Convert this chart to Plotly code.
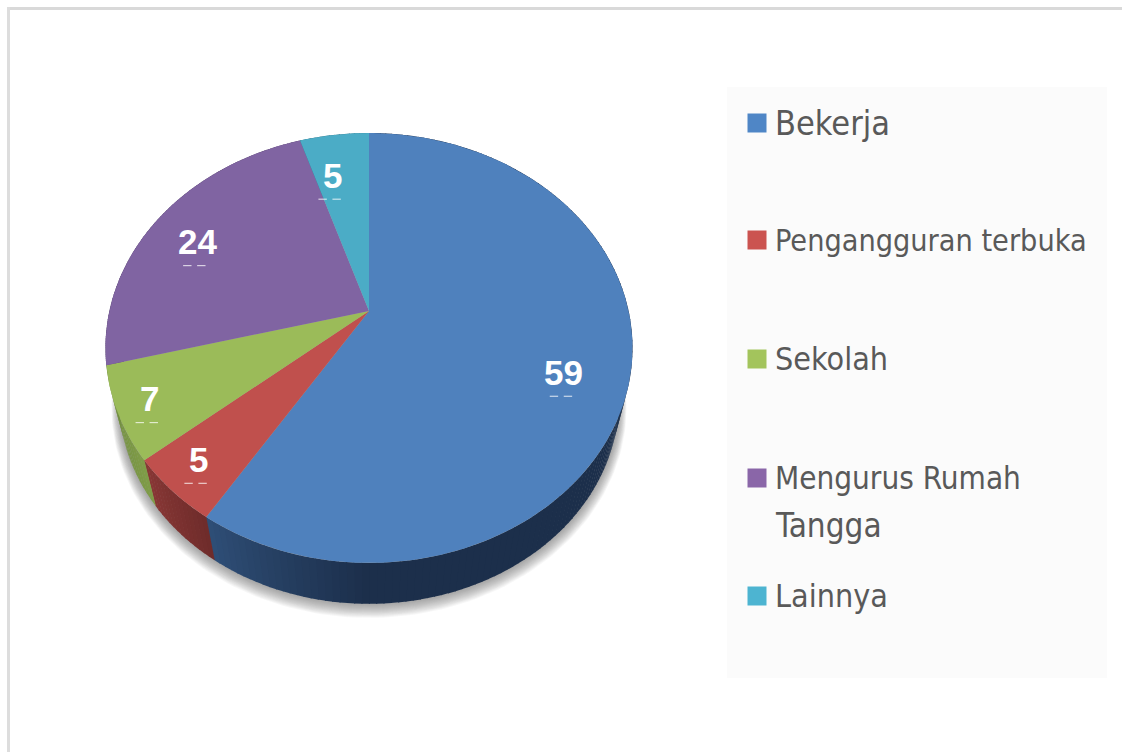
import math
import plotly.graph_objects as go

# ---------- data ----------
categories = ["Bekerja", "Pengangguran terbuka", "Sekolah", "Mengurus Rumah\nTangga", "Lainnya"]
values = [59, 5, 7, 24, 5]
top_colors = ["#4F81BD", "#C0504D", "#9BBB59", "#8064A2", "#4BACC6"]

# ---------- style / layout constants ----------
wall_start = ["#2F4F78", "#8A3836", "#6E8A3C", "#55406F", "#2F7488"]
wall_end = ["#1C2F4B", "#6F2C2B", "#7F9C48", "#55406F", "#2F7488"]
legend_colors = ["#4F86C6", "#CB5350", "#A3C45C", "#8A66A8", "#4DB4D1"]
legend_y = [123, 240, 359, 478, 596]
legend_sizes = [[34], [30.3], [32], [31.2, 33], [32]]
label_r = [0.75, 0.88, 0.89, 0.80, 0.73]
label_dx = [1, 0, 2, -1, -10]
label_dy = [16, -7, -3, 6, -2]

CX, CY, R = 369, 311, 259.6
A, C = 155.1, -0.172
VPX, VPY, S = 369, 1350, 0.948


def project(frac, r=1.0):
    t = 2 * math.pi * frac
    u, v = r * math.sin(t), -r * math.cos(t)
    den = 1 + C * v
    return CX + R * u / den, (A * v + CY) / den


def drop(p):
    return VPX + S * (p[0] - VPX), VPY + S * (p[1] - VPY)


def mix(a, b, k):
    ca = [int(a[i:i + 2], 16) for i in (1, 3, 5)]
    cb = [int(b[i:i + 2], 16) for i in (1, 3, 5)]
    return "#%02x%02x%02x" % tuple(round(x + (y - x) * k) for x, y in zip(ca, cb))


def poly(pts, color):
    return go.Scatter(
        x=[p[0] for p in pts] + [pts[0][0]],
        y=[p[1] for p in pts] + [pts[0][1]],
        mode="lines", fill="toself", fillcolor=color,
        line=dict(width=0, color=color), hoverinfo="skip", showlegend=False,
    )


fig = go.Figure()

# soft shadow below the disc
ring = [drop(project(i / 240)) for i in range(240)]
for k in range(14, 0, -1):
    grow = 1 + k * 0.0022
    pts = [(VPX + (p[0] - VPX) * grow, 400 + (p[1] - 400) * grow + k * 0.55) for p in ring]
    fig.add_trace(poly(pts, "rgba(90,90,90,0.05)"))

total = sum(values)
edges = [0]
for val in values:
    edges.append(edges[-1] + val / total)

# side walls
for i in range(len(values)):
    a, b = edges[i], edges[i + 1]
    strips = 150 if values[i] > 10 else 14
    for s in range(strips):
        f0 = a + (b - a) * s / strips
        f1 = a + (b - a) * (s + 1) / strips + 0.0006
        # blue wall fades only towards its left end
        if i == 0:
            k = min(1, (b - f0) / 0.09)
        else:
            k = (b - f0) / (b - a)
        col = mix(wall_start[i], wall_end[i], k)
        top = [project(f0), project(f1)]
        fig.add_trace(poly(top + [drop(p) for p in reversed(top)], col))

# top faces
for i in range(len(values)):
    a, b = edges[i], edges[i + 1]
    n = max(6, int(values[i] * 3))
    rim = [project(a + (b - a) * j / n) for j in range(n + 1)]
    fig.add_trace(poly([(CX, CY)] + rim, top_colors[i]))

annotations = []
# value labels
for i, val in enumerate(values):
    x, y = project((edges[i] + edges[i + 1]) / 2, label_r[i])
    x += label_dx[i]
    y += label_dy[i]
    annotations.append(dict(x=x, y=y, text=f"<b>{val}</b>", showarrow=False, xanchor="center", yanchor="middle",
                            font=dict(family="Liberation Sans", size=35, color="white")))
    fig.add_trace(go.Scatter(x=[x - 10, x + 4], y=[y + 24, y + 24], mode="markers", hoverinfo="skip", showlegend=False,
                             marker=dict(symbol="line-ew", size=6, line=dict(color="rgba(255,255,255,0.7)", width=1.2))))

# legend
fig.add_trace(go.Scatter(x=[757] * len(values), y=legend_y, mode="markers", hoverinfo="skip", showlegend=False,
                         marker=dict(symbol="square", size=19, color=legend_colors, line=dict(width=0))))
for name, y, sizes in zip(categories, legend_y, legend_sizes):
    for j, (line, size) in enumerate(zip(name.split("\n"), sizes)):
        annotations.append(dict(x=773, y=y + j * 47, text=line, showarrow=False, xanchor="left", yanchor="middle",
                                font=dict(family="Liberation Sans Narrow, DejaVu Sans Condensed", size=size, color="#595959")))

shapes = [
    dict(type="rect", x0=727, x1=1107, y0=87, y1=678, fillcolor="#FBFBFB", line=dict(width=0), layer="below"),
    dict(type="rect", x0=7, x1=1122, y0=7, y1=10, fillcolor="#D9D9D9", line=dict(width=0), layer="below"),
    dict(type="rect", x0=7, x1=10, y0=7, y1=752, fillcolor="#DDDDDD", line=dict(width=0), layer="below"),
]

fig.update_layout(
    width=1122, height=752, autosize=False, margin=dict(l=0, r=0, t=0, b=0),
    paper_bgcolor="white", plot_bgcolor="white", showlegend=False,
    xaxis=dict(range=[0, 1122], visible=False, fixedrange=True),
    yaxis=dict(range=[752, 0], visible=False, fixedrange=True),
    annotations=annotations, shapes=shapes,
)
fig.write_html("out.html", post_script="document.body.style.margin='0';document.documentElement.style.overflow='hidden';",
               config=dict(displayModeBar=False))
